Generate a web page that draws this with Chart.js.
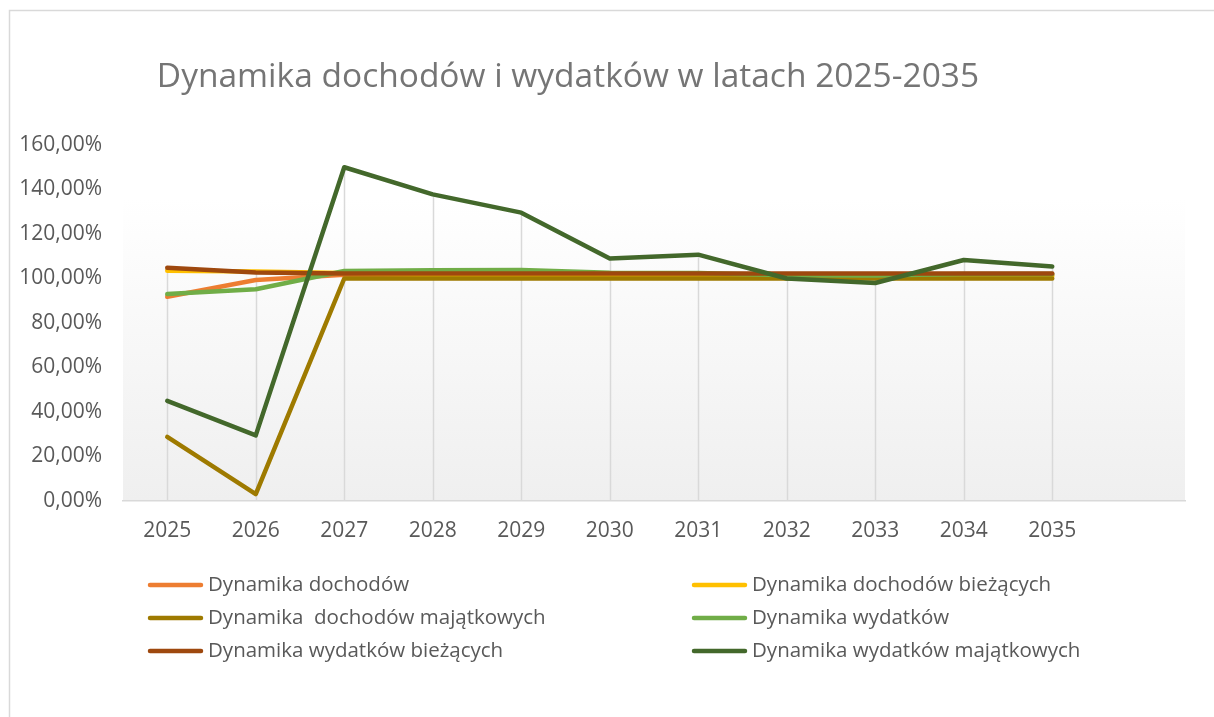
<!DOCTYPE html>
<html>
<head>
<meta charset="utf-8">
<script src="https://cdn.jsdelivr.net/npm/chart.js@4/dist/chart.umd.min.js"></script>
<style>
  html, body { margin: 0; padding: 0; background: #ffffff; }
  #wrap { width: 1214px; height: 717px; }
</style>
</head>
<body>
<div id="wrap"><canvas id="chart" width="1214" height="717"></canvas></div>
<script>
// chart data
const years = ['2025', '2026', '2027', '2028', '2029', '2030', '2031', '2032', '2033', '2034', '2035', ''];
const titleText = 'Dynamika dochodów i wydatków w latach 2025-2035';

const dochody = [91.8, 99.3, 101.7, 101.6, 101.6, 101.6, 101.6, 101.6, 101.6, 101.6, 101.6];
const dochodyBiezace = [103.5, 103.2, 102.5, 101.6, 101.2, 101.1, 101.1, 101.1, 101.1, 101.1, 101.1];
const dochodyMajatkowe = [28.8, 3.1, 100.0, 100.0, 100.0, 100.0, 100.0, 100.0, 100.0, 100.0, 100.0];
const wydatki = [93.0, 95.2, 103.4, 103.7, 103.8, 102.6, 102.5, 101.5, 101.3, 102.0, 102.0];
const wydatkiBiezace = [104.8, 102.7, 102.3, 102.2, 102.2, 102.2, 102.2, 102.2, 102.2, 102.2, 102.2];
const wydatkiMajatkowe = [45.0, 29.5, 150.0, 137.8, 129.6, 109.0, 110.7, 100.0, 98.0, 108.3, 105.4];

const seriesLabels = [
  'Dynamika dochodów',
  'Dynamika dochodów bieżących',
  'Dynamika  dochodów majątkowych',
  'Dynamika wydatków',
  'Dynamika wydatków bieżących',
  'Dynamika wydatków majątkowych'
];
const seriesColors = ['#ED7D31', '#FFC000', '#9E7A00', '#70AD47', '#9E480E', '#43682B'];
const seriesValues = [dochody, dochodyBiezace, dochodyMajatkowe, wydatki, wydatkiBiezace, wydatkiMajatkowe];

const FONT = '"Open Sans", "Noto Sans", sans-serif';
const TEXT_COLOR = '#595959';

// frame, plot background and drop lines
const backdropPlugin = {
  id: 'backdrop',
  beforeDraw(chart) {
    const ctx = chart.ctx;
    const area = chart.chartArea;
    ctx.save();
    // outer chart frame (cropped on right/bottom)
    ctx.strokeStyle = '#d9d9d9';
    ctx.lineWidth = 1.5;
    ctx.beginPath();
    ctx.moveTo(9.5, 717);
    ctx.lineTo(9.5, 10.5);
    ctx.lineTo(1214, 10.5);
    ctx.stroke();
    // gradient plot area
    const grad = ctx.createLinearGradient(0, area.top, 0, area.bottom);
    grad.addColorStop(0, '#ffffff');
    grad.addColorStop(0.15, '#ffffff');
    grad.addColorStop(1, '#efefef');
    ctx.fillStyle = grad;
    ctx.fillRect(area.left, area.top, area.right - area.left, area.bottom - area.top);
    ctx.restore();
  },
  beforeDatasetsDraw(chart) {
    const ctx = chart.ctx;
    const xs = chart.scales.x;
    const ys = chart.scales.y;
    ctx.save();
    ctx.strokeStyle = '#d9d9d9';
    ctx.lineWidth = 1.5;
    for (let i = 0; i < years.length; i++) {
      const vals = seriesValues.map(s => s[i]).filter(v => v !== undefined);
      if (!vals.length) continue;
      const x = Math.round(xs.getPixelForValue(i)) + 0.5;
      ctx.beginPath();
      ctx.moveTo(x, ys.getPixelForValue(Math.max(...vals)));
      ctx.lineTo(x, ys.getPixelForValue(0));
      ctx.stroke();
    }
    ctx.restore();
  },
  afterDraw(chart) {
    const ctx = chart.ctx;
    ctx.save();
    // title
    ctx.fillStyle = '#757575';
    ctx.font = '33.5px ' + FONT;
    ctx.textAlign = 'center';
    ctx.textBaseline = 'middle';
    ctx.fillText(titleText, 568, 77);
    // legend in two columns
    ctx.font = '20.5px ' + FONT;
    ctx.textAlign = 'left';
    chart.data.datasets.forEach((ds, i) => {
      const col = i % 2;
      const row = Math.floor(i / 2);
      const x0 = col === 0 ? 150 : 694;
      const y = 585 + row * 33;
      ctx.strokeStyle = ds.borderColor;
      ctx.lineWidth = 4.5;
      ctx.lineCap = 'round';
      ctx.beginPath();
      ctx.moveTo(x0, y);
      ctx.lineTo(x0 + 51, y);
      ctx.stroke();
      ctx.fillStyle = TEXT_COLOR;
      ctx.fillText(ds.label, x0 + 58, y);
    });
    ctx.restore();
  }
};

const datasets = seriesLabels.map((label, i) => ({
  label: label,
  data: seriesValues[i],
  borderColor: seriesColors[i],
  backgroundColor: seriesColors[i],
  borderWidth: 4.5,
  borderCapStyle: 'round',
  borderJoinStyle: 'round',
  pointRadius: 0,
  tension: 0,
  fill: false,
  order: seriesLabels.length - i // later series on top, like Excel
}));

new Chart(document.getElementById('chart'), {
  type: 'line',
  data: { labels: years, datasets: datasets },
  options: {
    responsive: false,
    animation: false,
    layout: { padding: { left: 0, top: 145, right: 29, bottom: 156 } },
    plugins: {
      legend: { display: false },
      title: { display: false },
      tooltip: { enabled: false }
    },
    scales: {
      x: {
        offset: true,
        grid: { display: false, drawTicks: false },
        border: { display: true, color: '#d9d9d9', width: 1.5 },
        ticks: {
          color: TEXT_COLOR,
          font: { family: FONT, size: 21 },
          padding: 17,
          maxRotation: 0,
          autoSkip: false
        },
        afterFit(scale) { scale.height = 60; }
      },
      y: {
        min: 0,
        max: 160,
        grid: { display: false, drawTicks: false },
        border: { display: false },
        ticks: {
          stepSize: 20,
          color: TEXT_COLOR,
          font: { family: FONT, size: 21 },
          padding: 21,
          callback: (v) => v.toFixed(2).replace('.', ',') + '%'
        },
        afterFit(scale) { scale.width = 123; }
      }
    }
  },
  plugins: [backdropPlugin]
});
</script>
</body>
</html>
